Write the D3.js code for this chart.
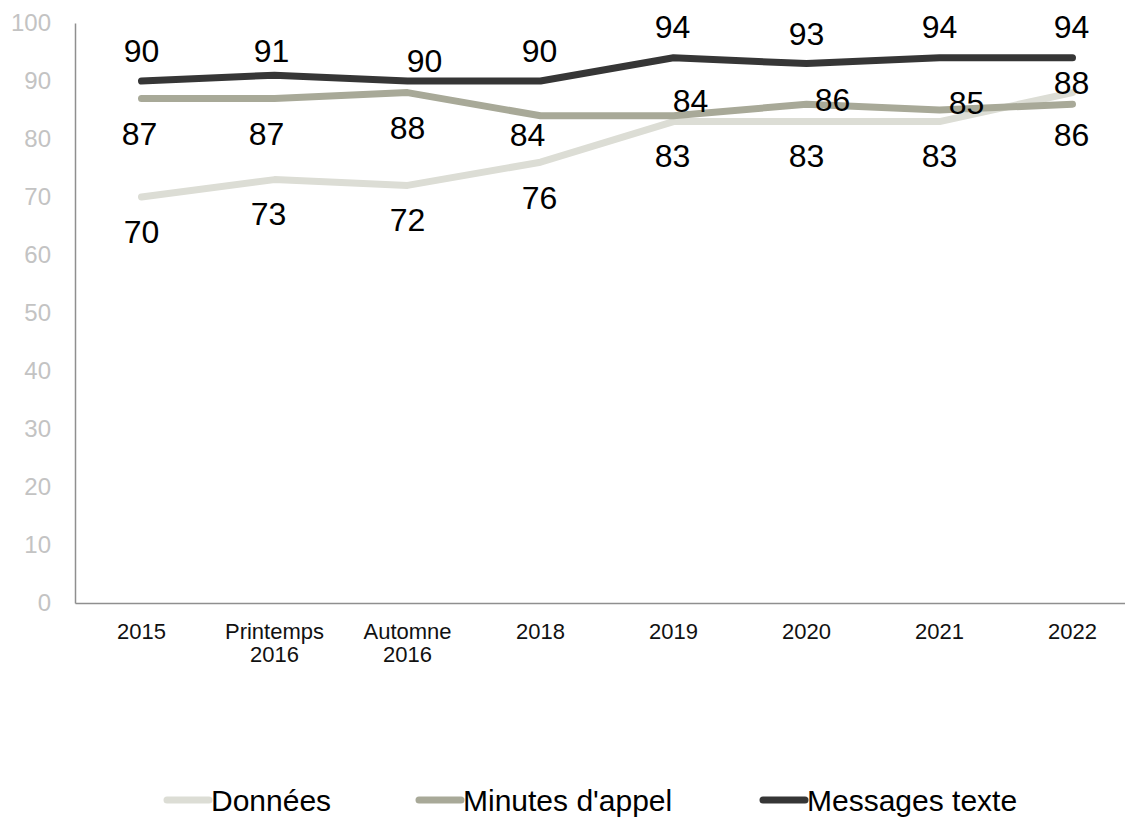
<!DOCTYPE html>
<html>
<head>
<meta charset="utf-8">
<script src="https://cdn.jsdelivr.net/npm/d3@7"></script>
<style>
  html, body { margin: 0; padding: 0; background: #ffffff; }
  svg { display: block; font-family: "Liberation Sans", Arial, sans-serif; }
</style>
</head>
<body>
<svg id="chart" width="1125" height="817"></svg>
<script>
// Categories (x axis), multi-line labels split on "\n"
const categories = ["2015", "Printemps\n2016", "Automne\n2016", "2018", "2019", "2020", "2021", "2022"];

// Series values (%)
const donnees  = [70, 73, 72, 76, 83, 83, 83, 88];
const minutes  = [87, 87, 88, 84, 84, 86, 85, 86];
const messages = [90, 91, 90, 90, 94, 93, 94, 94];

const seriesNames = ["Données", "Minutes d'appel", "Messages texte"];
const yTicks = [0, 10, 20, 30, 40, 50, 60, 70, 80, 90, 100];

// Label offsets from each point (pixels): [dx, dy] of the label centre
const labelOffsets = {
  "Données":         [[0,34],[-6,34],[0,34],[-1,35],[-1,34],[0,34],[0,34],[-1,-10]],
  "Minutes d'appel": [[-2,35],[-8,35],[0,35],[-13,19],[17,-15],[26,-5],[27,-8],[-1,30]],
  "Messages texte":  [[0,-31],[-3,-25],[17,-21],[-1,-31],[-1,-31],[0,-30],[0,-31],[-1,-31]]
};

const colors = {
  "Données": "#dcddd5",
  "Minutes d'appel": "#a8a998",
  "Messages texte": "#363636"
};

const series = [
  { name: seriesNames[0], values: donnees },
  { name: seriesNames[1], values: minutes },
  { name: seriesNames[2], values: messages }
];

const svg = d3.select("#chart");
const plot = { left: 75, right: 1139, top: 23, bottom: 603 };

const x = d3.scaleBand().domain(categories).range([plot.left, plot.right]).padding(0);
const y = d3.scaleLinear().domain([0, 100]).range([plot.bottom, plot.top]);
const cx = c => x(c) + x.bandwidth() / 2;

// Y axis
const yAxis = svg.append("g")
  .attr("transform", `translate(${plot.left},0)`)
  .call(d3.axisLeft(y).tickValues(yTicks).tickSize(0).tickPadding(24));
yAxis.select(".domain").attr("stroke", "#8f8f8f").attr("stroke-width", 1.5);
yAxis.selectAll("text")
  .attr("font-size", 24)
  .attr("fill", "#c3c3c3")
  .attr("font-family", "Liberation Sans, Arial, sans-serif");

// X axis
const xAxis = svg.append("g")
  .attr("transform", `translate(0,${plot.bottom})`)
  .call(d3.axisBottom(x).tickSize(0).tickSizeOuter(0).tickFormat(""));
xAxis.select(".domain").attr("stroke", "#8f8f8f").attr("stroke-width", 1.5);
xAxis.selectAll(".tick").each(function (d) {
  const lines = d.split("\n");
  const t = d3.select(this).append("text")
    .attr("fill", "#111")
    .attr("font-size", 22)
    .attr("font-family", "Liberation Sans, Arial, sans-serif")
    .attr("text-anchor", "middle")
    .attr("y", 36);
  lines.forEach((ln, i) => {
    t.append("tspan").attr("x", 0).attr("dy", i === 0 ? 0 : 23).text(ln);
  });
});

// Lines
const line = d3.line()
  .x((v, i) => cx(categories[i]))
  .y(v => y(v));

svg.append("g").selectAll("path")
  .data(series)
  .join("path")
  .attr("d", s => line(s.values))
  .attr("fill", "none")
  .attr("stroke", s => colors[s.name])
  .attr("stroke-width", 7)
  .attr("stroke-linejoin", "round")
  .attr("stroke-linecap", "round");

// Data labels
series.forEach(s => {
  svg.append("g").selectAll("text")
    .data(s.values)
    .join("text")
    .attr("x", (v, i) => cx(categories[i]) + labelOffsets[s.name][i][0])
    .attr("y", (v, i) => y(v) + labelOffsets[s.name][i][1])
    .attr("dy", "0.36em")
    .attr("text-anchor", "middle")
    .attr("font-size", 32)
    .attr("fill", "#000")
    .text(v => v);
});

// Legend
const legendItems = [
  { name: seriesNames[0], x: 167 },
  { name: seriesNames[1], x: 419 },
  { name: seriesNames[2], x: 763 }
];
const legend = svg.append("g").attr("transform", "translate(0,800)");
legendItems.forEach(it => {
  const g = legend.append("g").attr("transform", `translate(${it.x},0)`);
  g.append("line")
    .attr("x1", 0).attr("x2", 42).attr("y1", 0).attr("y2", 0)
    .attr("stroke", colors[it.name])
    .attr("stroke-width", 7)
    .attr("stroke-linecap", "round");
  g.append("text")
    .attr("x", 44)
    .attr("y", 0)
    .attr("dy", "0.36em")
    .attr("font-size", 30)
    .attr("fill", "#000")
    .text(it.name);
});
</script>
</body>
</html>
